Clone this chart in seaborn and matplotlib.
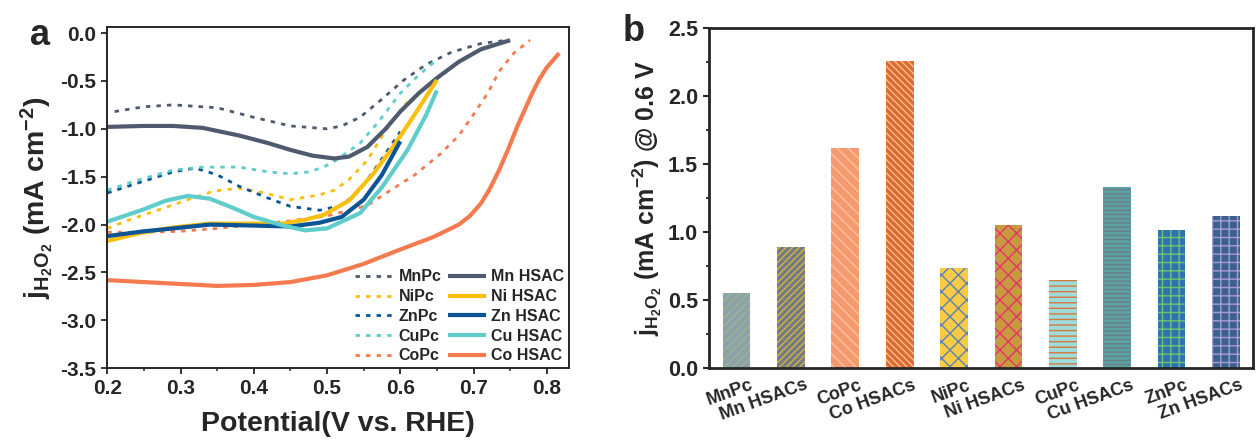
import numpy as np
import pandas as pd
import matplotlib
matplotlib.use("Agg")
import matplotlib.pyplot as plt
import matplotlib.transforms as mtransforms
from matplotlib.ticker import MultipleLocator
import seaborn as sns

# ---------------- data: panel a ----------------
mnpc_v = [0.21, 0.25, 0.29, 0.35, 0.40, 0.45, 0.50, 0.52, 0.545, 0.575, 0.605, 0.635, 0.67, 0.71, 0.746]
mnpc_j = [-0.82, -0.77, -0.75, -0.78, -0.88, -0.97, -1.00, -0.97, -0.88, -0.69, -0.49, -0.33, -0.20, -0.11, -0.075]
nipc_v = [0.20, 0.23, 0.265, 0.31, 0.345, 0.38, 0.415, 0.45, 0.49, 0.51, 0.53, 0.555, 0.575, 0.59, 0.61]
nipc_j = [-2.04, -1.95, -1.86, -1.74, -1.65, -1.62, -1.67, -1.74, -1.69, -1.64, -1.53, -1.33, -1.08, -0.91, -0.72]
znpc_v = [0.20, 0.24, 0.29, 0.32, 0.35, 0.38, 0.415, 0.45, 0.49, 0.52, 0.545, 0.57, 0.60]
znpc_j = [-1.67, -1.57, -1.45, -1.41, -1.48, -1.60, -1.71, -1.81, -1.85, -1.80, -1.64, -1.37, -1.03]
cupc_v = [0.20, 0.24, 0.29, 0.33, 0.38, 0.42, 0.45, 0.475, 0.495, 0.51, 0.545, 0.57, 0.60, 0.625, 0.65]
cupc_j = [-1.64, -1.54, -1.43, -1.40, -1.40, -1.45, -1.47, -1.45, -1.40, -1.34, -1.15, -0.93, -0.63, -0.44, -0.28]
copc_v = [0.20, 0.25, 0.30, 0.35, 0.40, 0.45, 0.50, 0.555, 0.585, 0.62, 0.655, 0.68, 0.70, 0.72, 0.735, 0.755, 0.777]
copc_j = [-2.08, -2.08, -2.07, -2.04, -2.00, -1.96, -1.91, -1.80, -1.65, -1.48, -1.26, -1.07, -0.85, -0.62, -0.40, -0.21, -0.075]

mn_v = [0.20, 0.25, 0.29, 0.33, 0.38, 0.42, 0.45, 0.48, 0.51, 0.53, 0.555, 0.58, 0.60, 0.625, 0.65, 0.68, 0.71, 0.75]
mn_j = [-0.98, -0.97, -0.97, -0.99, -1.07, -1.15, -1.22, -1.28, -1.31, -1.29, -1.19, -1.00, -0.82, -0.63, -0.47, -0.30, -0.17, -0.075]
ni_v = [0.20, 0.25, 0.29, 0.34, 0.40, 0.44, 0.47, 0.495, 0.53, 0.563, 0.59, 0.618, 0.65]
ni_j = [-2.17, -2.08, -2.03, -1.99, -1.99, -1.99, -1.95, -1.90, -1.75, -1.47, -1.19, -0.87, -0.49]
zn_v = [0.20, 0.25, 0.29, 0.34, 0.40, 0.45, 0.49, 0.52, 0.55, 0.575, 0.60]
zn_j = [-2.12, -2.07, -2.04, -2.00, -2.01, -2.02, -1.98, -1.92, -1.74, -1.48, -1.13]
cu_v = [0.20, 0.25, 0.28, 0.31, 0.34, 0.37, 0.40, 0.44, 0.47, 0.50, 0.545, 0.575, 0.61, 0.635, 0.65]
cu_j = [-1.97, -1.84, -1.75, -1.70, -1.73, -1.82, -1.92, -2.01, -2.06, -2.04, -1.88, -1.61, -1.22, -0.86, -0.60]
co_v = [0.20, 0.25, 0.30, 0.35, 0.40, 0.45, 0.50, 0.55, 0.60, 0.645, 0.68, 0.695, 0.71, 0.722,
        0.735, 0.748, 0.76, 0.77, 0.78, 0.79, 0.80, 0.817]
co_j = [-2.58, -2.60, -2.62, -2.64, -2.63, -2.60, -2.53, -2.41, -2.26, -2.13, -2.00, -1.91, -1.78, -1.63,
        -1.43, -1.20, -0.97, -0.80, -0.63, -0.48, -0.36, -0.21]

# ---------------- data: panel b ----------------
bar_cats = ["MnPc", "Mn HSACs", "CoPc", "Co HSACs", "NiPc", "Ni HSACs",
            "CuPc", "Cu HSACs", "ZnPc", "Zn HSACs"]
bar_vals = [0.55, 0.89, 1.62, 2.26, 0.74, 1.05, 0.65, 1.33, 1.02, 1.12]

# ---------------- style ----------------
sns.set_style("ticks")
plt.rcParams["font.family"] = ["Liberation Sans", "DejaVu Sans"]
plt.rcParams["font.weight"] = "bold"
plt.rcParams["axes.labelweight"] = "bold"
plt.rcParams["axes.unicode_minus"] = False
plt.rcParams["mathtext.fontset"] = "custom"
plt.rcParams["mathtext.rm"] = "Liberation Sans:bold"
plt.rcParams["mathtext.bf"] = "Liberation Sans:bold"
plt.rcParams["mathtext.it"] = "Liberation Sans:bold"
plt.rcParams["mathtext.default"] = "bf"
plt.rcParams["hatch.linewidth"] = 1.0

C_MN = "#4f5a6e"
C_NI = "#f9bf0f"
C_ZN = "#0b5495"
C_CU = "#5ecdcb"
C_CO = "#f47b4f"

fig = plt.figure(figsize=(12.58, 4.45), dpi=100)
ax1 = fig.add_axes([0.0853, 0.1724, 0.3668, 0.7663])
ax2 = fig.add_axes([0.5638, 0.1724, 0.4324, 0.7640])

dot = (0, (1.6, 2.2))
dlw = 2.0
slw = 3.0
pc_series = [("MnPc", mnpc_v, mnpc_j, C_MN), ("NiPc", nipc_v, nipc_j, C_NI),
             ("ZnPc", znpc_v, znpc_j, C_ZN), ("CuPc", cupc_v, cupc_j, C_CU),
             ("CoPc", copc_v, copc_j, C_CO)]
hs_series = [("Mn HSAC", mn_v, mn_j, C_MN), ("Ni HSAC", ni_v, ni_j, C_NI),
             ("Zn HSAC", zn_v, zn_j, C_ZN), ("Cu HSAC", cu_v, cu_j, C_CU),
             ("Co HSAC", co_v, co_j, C_CO)]

for name, v, j, c in pc_series:
    sns.lineplot(x=v, y=j, ax=ax1, color=c, lw=dlw, linestyle=dot,
                 sort=False, estimator=None, label=name)
for name, v, j, c in hs_series:
    sns.lineplot(x=v, y=j, ax=ax1, color=c, lw=slw, linestyle="-",
                 sort=False, estimator=None, label=name, solid_capstyle="butt",
                 solid_joinstyle="round")

ax1.set_xlim(0.2, 0.83)
ax1.set_ylim(-3.5, 0.06)
ax1.xaxis.set_major_locator(MultipleLocator(0.1))
ax1.xaxis.set_minor_locator(MultipleLocator(0.05))
ax1.yaxis.set_major_locator(MultipleLocator(0.5))
ax1.tick_params(axis="both", which="major", direction="out", length=4, width=1.3,
                labelsize=15, pad=4)
ax1.tick_params(axis="x", which="minor", direction="out", length=2.5, width=1.1)
for s in ax1.spines.values():
    s.set_linewidth(1.4)
    s.set_visible(True)
ax1.set_xlabel("Potential(V vs. RHE)", fontsize=20.5, labelpad=9)
ax1.set_ylabel(r"$\mathbf{j_{H_2O_2}}$ (mA cm$^{-2}$)", fontsize=20.5, labelpad=4)

h, l = ax1.get_legend_handles_labels()
ax1.legend(h, l, ncol=2, loc="lower right", bbox_to_anchor=(1.0, 0.0),
           frameon=False, fontsize=11.5, handlelength=2.4, handletextpad=0.3,
           columnspacing=0.4, labelspacing=0.3, borderaxespad=0.1, borderpad=0.2)

# ---------------- panel b ----------------
bar_colors = ["#939ead", "#727b8b", "#f5996f", "#dc683b", "#f9cb45",
              "#c89a3f", "#9edbdb", "#5aa2a3", "#2e72b0", "#3a6190"]
hatch_colors = ["#86c286", "#d9b52e", "#fbc3a3", "#f7c474", "#5a82b5",
                "#e8326c", "#d6783e", "#6e7d83", "#6ec46f", "#aa9bd2"]
hatches = ["////", "/////", "\\\\\\", "\\\\\\\\\\", "xx", "xx",
           "---", "----", "++", "++"]

dfb = pd.DataFrame({"cat": bar_cats, "val": bar_vals})
sns.barplot(data=dfb, x="cat", y="val", hue="cat", palette=bar_colors,
            legend=False, width=0.51, saturation=1, ax=ax2)
for p, hc, ht in zip(ax2.patches, hatch_colors, hatches):
    p.set_hatch(ht)
    p.set_edgecolor(hc)
    p.set_linewidth(0)

ax2.set_xlim(-0.5, 9.5)
ax2.set_ylim(0, 2.5)
ax2.yaxis.set_major_locator(MultipleLocator(0.5))
ax2.yaxis.set_minor_locator(MultipleLocator(0.25))
ax2.tick_params(axis="y", which="major", direction="out", length=4, width=1.5,
                labelsize=15.5, pad=4)
ax2.tick_params(axis="y", which="minor", direction="out", length=2.5, width=1.3)
ax2.tick_params(axis="x", which="major", length=0, pad=6)
for s in ax2.spines.values():
    s.set_linewidth(2.0)
    s.set_visible(True)
ax2.set_xlabel("")
ax2.set_ylabel(r"$\mathbf{j_{H_2O_2}}$ (mA cm$^{-2}$) @ 0.6 V", fontsize=18, labelpad=3)
ax2.set_xticks(range(len(bar_cats)))
ax2.set_xticklabels(bar_cats, rotation=20, ha="right", rotation_mode="anchor",
                    fontsize=13, fontweight="bold")
off = mtransforms.ScaledTranslation(13 / 100, 0, fig.dpi_scale_trans)
for t in ax2.get_xticklabels():
    t.set_transform(t.get_transform() + off)

fig.text(0.024, 0.92, "a", fontsize=26, fontweight="bold", va="center")
fig.text(0.495, 0.93, "b", fontsize=26, fontweight="bold", va="center")

fig.savefig("out.png", dpi=100)
